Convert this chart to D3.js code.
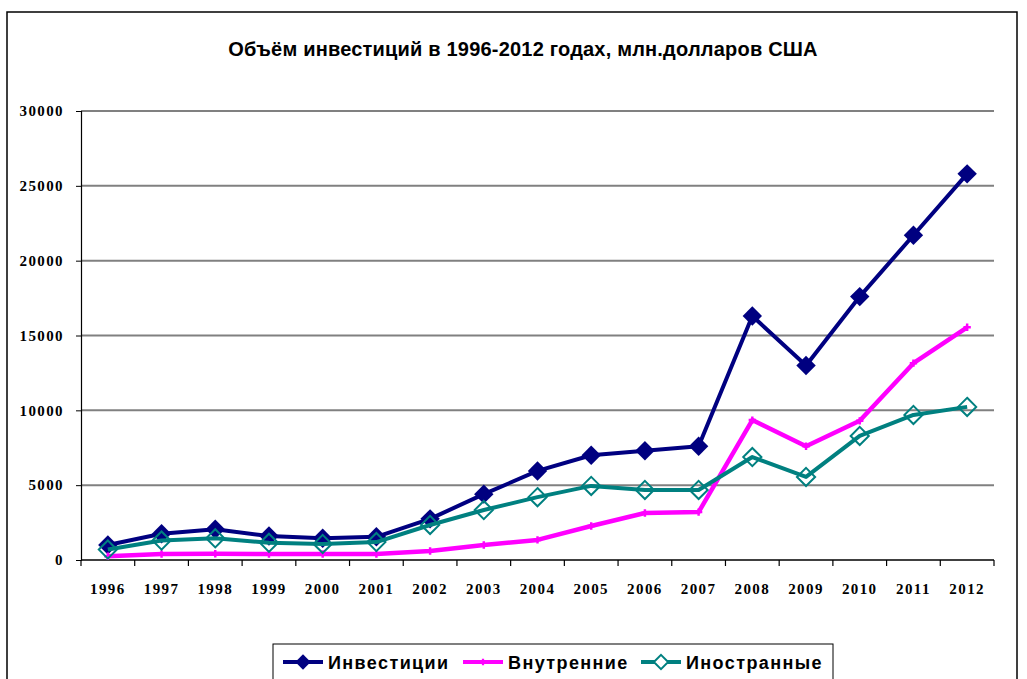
<!DOCTYPE html>
<html>
<head>
<meta charset="utf-8">
<script src="https://cdn.jsdelivr.net/npm/d3@7"></script>
<style>
  body { margin: 0; background: #fff; }
  svg { display: block; }
  .tick-label { font-family: "Liberation Serif", "Times New Roman", serif; font-weight: bold; font-size: 15px; letter-spacing: 1.4px; }
  .legend-text { font-family: "Liberation Sans", Arial, sans-serif; font-weight: bold; font-size: 18px; letter-spacing: 1.4px; }
</style>
</head>
<body>
<div id="chart"></div>
<script>
// years on the category axis
const years = ["1996","1997","1998","1999","2000","2001","2002","2003","2004",
  "2005","2006","2007","2008","2009","2010","2011","2012"];

// values, mln USD
const investments = [1000, 1750, 2050, 1600, 1450, 1550, 2750, 4400, 5950,
  7000, 7300, 7600, 16300, 13000, 17600, 21700, 25800];
const domestic = [250, 400, 420, 400, 400, 400, 600, 1000, 1340,
  2270, 3140, 3200, 9350, 7600, 9300, 13150, 15550];
const foreign = [700, 1300, 1450, 1150, 1070, 1200, 2340, 3340, 4200,
  4950, 4680, 4680, 6880, 5550, 8290, 9690, 10230];

const yTicks = [0, 5000, 10000, 15000, 20000, 25000, 30000];

const seriesNames = ["Инвестиции", "Внутренние", "Иностранные"];
const seriesColors = ["#000080", "#FF00FF", "#008080"];

const width = 1027, height = 679;
const margin = {top: 111, right: 33, bottom: 119, left: 81};

const svg = d3.select("#chart").append("svg")
  .attr("width", width)
  .attr("height", height);

// outer chart frame
svg.append("rect")
  .attr("x", 7).attr("y", 12)
  .attr("width", 1010).attr("height", 700)
  .attr("fill", "none")
  .attr("stroke", "#000")
  .attr("stroke-width", 1.5);

svg.append("text")
  .attr("x", 523).attr("y", 56)
  .attr("text-anchor", "middle")
  .attr("font-family", "'Liberation Sans', Arial, sans-serif")
  .attr("font-weight", "bold")
  .attr("font-size", 20)
  .attr("letter-spacing", 0.2)
  .text("Объём инвестиций в 1996-2012 годах, млн.долларов США");

const x = d3.scaleBand()
  .domain(years)
  .range([margin.left, width - margin.right]);

const y = d3.scaleLinear()
  .domain([0, 30000])
  .range([height - margin.bottom, margin.top]);

// gridlines
svg.append("g")
  .selectAll("line")
  .data(yTicks.filter(d => d > 0))
  .join("line")
  .attr("x1", margin.left)
  .attr("x2", width - margin.right)
  .attr("y1", d => y(d))
  .attr("y2", d => y(d))
  .attr("stroke", "#808080")
  .attr("stroke-width", 2);

// y axis
const yAxis = svg.append("g")
  .attr("transform", `translate(${margin.left},0)`)
  .call(d3.axisLeft(y).tickValues(yTicks).tickSize(5).tickPadding(12).tickFormat(d3.format("d")));
yAxis.select(".domain").attr("stroke", "#000").attr("stroke-width", 1.2);
yAxis.selectAll("text").attr("class", "tick-label").attr("fill", "#000").attr("font-size", null).attr("font-family", null);

// x axis line with ticks between categories
const xAxisG = svg.append("g");
xAxisG.append("line")
  .attr("x1", margin.left).attr("x2", width - margin.right)
  .attr("y1", y(0)).attr("y2", y(0))
  .attr("stroke", "#000").attr("stroke-width", 1.5);
xAxisG.selectAll(".xtick")
  .data(years.concat(["end"]))
  .join("line")
  .attr("class", "xtick")
  .attr("x1", (d, i) => margin.left + i * x.bandwidth())
  .attr("x2", (d, i) => margin.left + i * x.bandwidth())
  .attr("y1", y(0))
  .attr("y2", y(0) + 6)
  .attr("stroke", "#000").attr("stroke-width", 1.2);
xAxisG.selectAll(".xlabel")
  .data(years)
  .join("text")
  .attr("class", "tick-label")
  .attr("x", d => x(d) + x.bandwidth() / 2)
  .attr("y", y(0) + 34)
  .attr("text-anchor", "middle")
  .attr("letter-spacing", 1)
  .text(d => d);

const line = d3.line()
  .x((d, i) => x(years[i]) + x.bandwidth() / 2)
  .y(d => y(d));

const allSeries = [investments, domestic, foreign];
const diamond = d3.symbol().type(d3.symbolDiamond2);

allSeries.forEach((vals, si) => {
  svg.append("path")
    .datum(vals)
    .attr("d", line)
    .attr("fill", "none")
    .attr("stroke", seriesColors[si])
    .attr("stroke-width", si === 1 ? 4.5 : 4)
    .attr("stroke-linejoin", "round");

  const pts = svg.append("g").selectAll("path")
    .data(vals)
    .join("path")
    .attr("transform", (d, i) => `translate(${x(years[i]) + x.bandwidth() / 2},${y(d)})`);

  if (si === 0) {
    pts.attr("d", diamond.size(240)).attr("fill", seriesColors[0]);
  } else if (si === 1) {
    pts.attr("d", d3.symbol().type(d3.symbolCross).size(30)).attr("fill", seriesColors[1]);
  } else {
    pts.attr("d", diamond.size(210)).attr("fill", "none")
      .attr("stroke", seriesColors[2]).attr("stroke-width", 2);
  }
});

// legend
const legend = svg.append("g");
legend.append("rect")
  .attr("x", 273).attr("y", 644)
  .attr("width", 560).attr("height", 60)
  .attr("fill", "#fff")
  .attr("stroke", "#000").attr("stroke-width", 1);

const legendX = [283, 463, 641];
seriesNames.forEach((name, si) => {
  const g = legend.append("g").attr("transform", `translate(${legendX[si]},662)`);
  g.append("line")
    .attr("x1", 0).attr("x2", 40)
    .attr("stroke", seriesColors[si]).attr("stroke-width", 4);
  const m = g.append("path").attr("transform", "translate(20,0)");
  if (si === 0) m.attr("d", diamond.size(150)).attr("fill", seriesColors[0]);
  else if (si === 1) m.attr("d", d3.symbol().type(d3.symbolCross).size(25)).attr("fill", seriesColors[1]);
  else m.attr("d", diamond.size(130)).attr("fill", "#fff").attr("stroke", seriesColors[2]).attr("stroke-width", 2);
  g.append("text")
    .attr("class", "legend-text")
    .attr("x", 45).attr("y", 7)
    .text(name);
});
</script>
</body>
</html>
